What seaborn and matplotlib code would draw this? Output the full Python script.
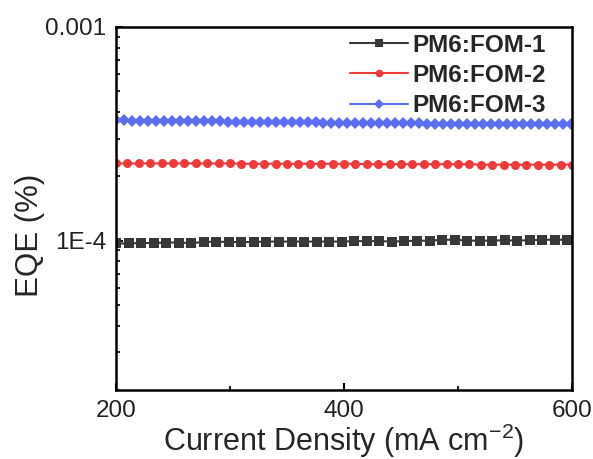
import numpy as np
import pandas as pd
import matplotlib
matplotlib.use("Agg")
import matplotlib.pyplot as plt
import matplotlib.ticker as mticker
import seaborn as sns

# current density grids (mA cm^-2)
x_fom1 = np.arange(200, 600, 11)
x_fom2 = np.arange(200, 601, 10)
x_fom3 = np.arange(200, 600, 7)

# EQE (%)
eqe_fom1 = [0.97e-4, 0.97e-4, 0.975e-4, 0.975e-4, 0.98e-4, 0.98e-4, 0.975e-4, 0.985e-4,
            0.99e-4, 0.985e-4, 0.985e-4, 0.985e-4, 0.99e-4, 0.99e-4, 0.99e-4, 0.99e-4,
            0.99e-4, 0.99e-4, 0.99e-4, 0.995e-4, 0.995e-4, 0.995e-4, 0.99e-4, 0.995e-4,
            1.0e-4, 1.0e-4, 1.01e-4, 1.01e-4, 1.0e-4, 1.0e-4, 1.0e-4, 1.005e-4,
            1.0e-4, 1.005e-4, 1.01e-4, 1.01e-4, 1.01e-4]
eqe_fom2 = [2.30e-4, 2.30e-4, 2.30e-4, 2.30e-4, 2.30e-4, 2.30e-4, 2.30e-4, 2.30e-4,
            2.30e-4, 2.30e-4, 2.30e-4, 2.29e-4, 2.29e-4, 2.29e-4, 2.29e-4, 2.29e-4,
            2.29e-4, 2.29e-4, 2.29e-4, 2.29e-4, 2.29e-4, 2.29e-4, 2.28e-4, 2.28e-4,
            2.28e-4, 2.28e-4, 2.28e-4, 2.28e-4, 2.28e-4, 2.28e-4, 2.28e-4, 2.28e-4,
            2.27e-4, 2.27e-4, 2.27e-4, 2.27e-4, 2.27e-4, 2.27e-4, 2.27e-4, 2.27e-4,
            2.27e-4]
eqe_fom3 = [3.66e-4, 3.66e-4, 3.65e-4, 3.65e-4, 3.65e-4, 3.64e-4, 3.64e-4, 3.64e-4,
            3.63e-4, 3.63e-4, 3.63e-4, 3.62e-4, 3.62e-4, 3.62e-4, 3.61e-4, 3.61e-4,
            3.61e-4, 3.60e-4, 3.60e-4, 3.60e-4, 3.59e-4, 3.59e-4, 3.59e-4, 3.58e-4,
            3.58e-4, 3.58e-4, 3.57e-4, 3.57e-4, 3.57e-4, 3.56e-4, 3.56e-4, 3.56e-4,
            3.55e-4, 3.55e-4, 3.55e-4, 3.55e-4, 3.54e-4, 3.54e-4, 3.54e-4, 3.53e-4,
            3.53e-4, 3.53e-4, 3.53e-4, 3.52e-4, 3.52e-4, 3.52e-4, 3.52e-4, 3.51e-4,
            3.51e-4, 3.51e-4, 3.51e-4, 3.50e-4, 3.50e-4, 3.50e-4, 3.50e-4, 3.50e-4,
            3.50e-4, 3.50e-4]

labels = ["PM6:FOM-1", "PM6:FOM-2", "PM6:FOM-3"]
colors = ["#383838", "#EE3A3A", "#5B6EF2"]
markers = ["s", "o", "D"]
msizes = [6.5, 6.5, 6.5]

sns.set_style("white")
plt.rcParams['font.family'] = ['Liberation Sans', 'DejaVu Sans']
plt.rcParams['mathtext.fontset'] = 'custom'
plt.rcParams['mathtext.rm'] = 'Liberation Sans'

fig = plt.figure(figsize=(5.93, 4.59), dpi=100)
ax = fig.add_axes([116 / 593, 1 - 390 / 459, 456 / 593, 363 / 459])

series = [(x_fom1, eqe_fom1), (x_fom2, eqe_fom2), (x_fom3, eqe_fom3)]
for (xs, ys), lab, c, m, ms in zip(series, labels, colors, markers, msizes):
    df = pd.DataFrame({"J": xs, "EQE": ys})
    sns.lineplot(data=df, x="J", y="EQE", ax=ax, color=c, marker=m, markersize=ms,
                 markeredgewidth=0, linewidth=1.5, label=lab)

ax.set_yscale("log")
ax.set_xlim(200, 600)
ax.set_ylim(2e-5, 1e-3)
ax.set_xticks([200, 400, 600])
ax.xaxis.set_minor_locator(mticker.MultipleLocator(100))
ax.set_yticks([1e-4, 1e-3])
ax.yaxis.set_major_formatter(mticker.FixedFormatter(["1E-4", "0.001"]))
ax.yaxis.set_minor_locator(mticker.LogLocator(base=10, subs=np.arange(2, 10)))
ax.yaxis.set_minor_formatter(mticker.NullFormatter())

ax.tick_params(axis="both", which="both", bottom=True, left=True, top=False, right=False)
ax.tick_params(axis="both", which="major", direction="in", length=5, width=1.5,
               labelsize=17.5, colors="black", pad=7)
ax.tick_params(axis="both", which="minor", direction="in", length=3, width=1.5)
ax.tick_params(axis="both", which="major", labelcolor="#222222")
for sp in ax.spines.values():
    sp.set_linewidth(1.8)
    sp.set_color("black")

ax.set_xlabel("Current Density (mA cm$^{-2}$)", fontsize=22)
ax.xaxis.set_label_coords(0.5, -0.088)
ax.set_ylabel("EQE (%)", fontsize=22.5)
ax.yaxis.set_label_coords(-0.155, 0.427)

leg = ax.legend(loc="upper right", bbox_to_anchor=(0.942, 0.982), frameon=False,
                prop={"weight": "bold", "size": 17.5},
                handlelength=2.4, handletextpad=0.15, labelspacing=0.3,
                borderaxespad=0, borderpad=0, markerscale=0.85)

fig.savefig("out.png", dpi=100)
